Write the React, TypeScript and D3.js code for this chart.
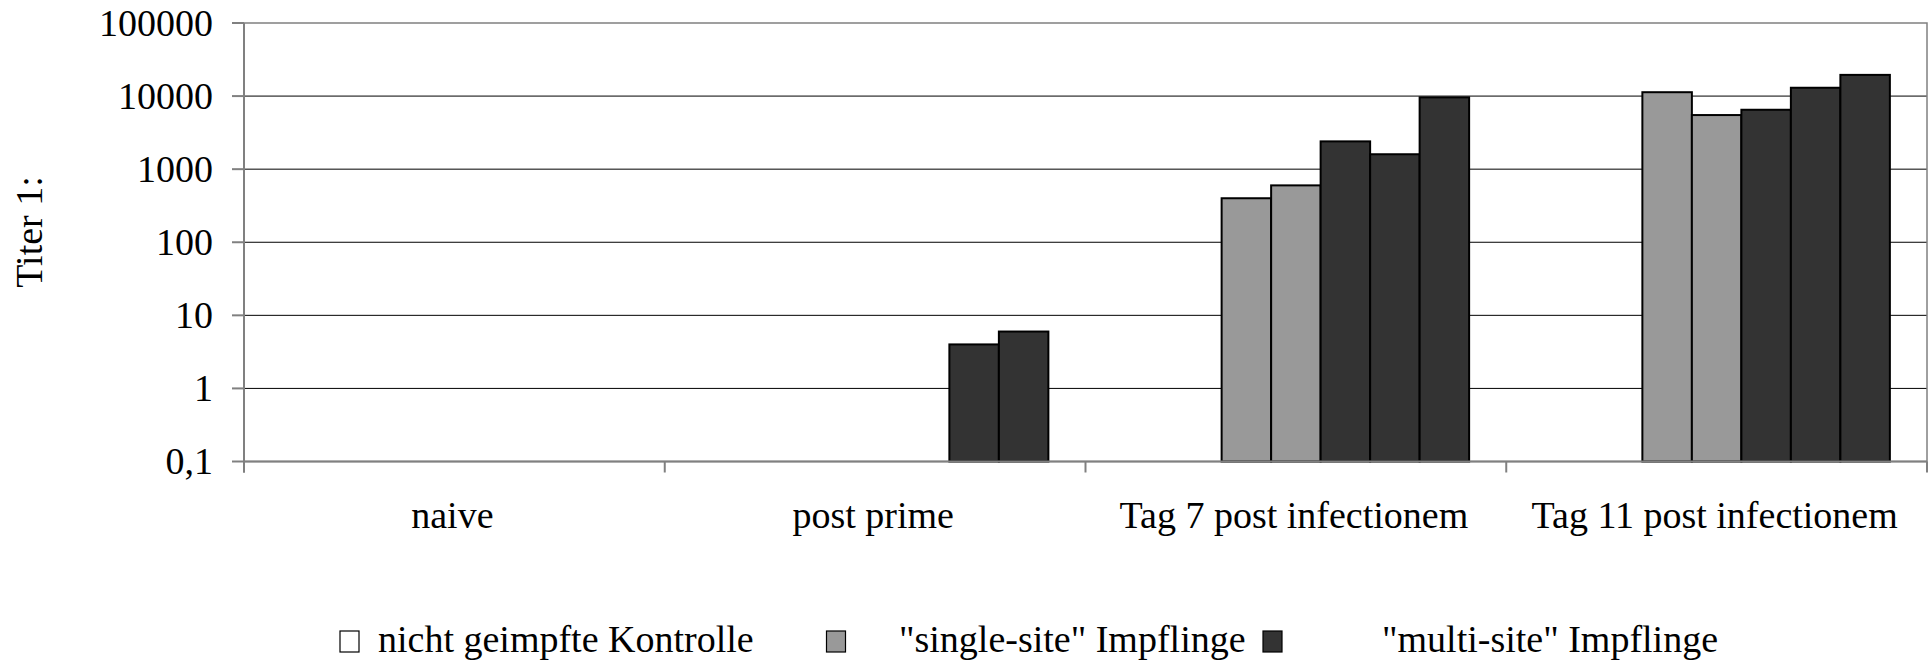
import React from "react";
import * as d3 from "d3";

const categories = ["naive", "post prime", "Tag 7 post infectionem", "Tag 11 post infectionem"];
const seriesGroups = ["control", "control", "single", "single", "multi", "multi", "multi"];
const control1: (number | null)[] = [null, null, null, null];
const control2: (number | null)[] = [null, null, null, null];
const single1: (number | null)[] = [null, null, 400, 11300];
const single2: (number | null)[] = [null, null, 600, 5500];
const multi1: (number | null)[] = [null, null, 2400, 6500];
const multi2: (number | null)[] = [null, 4, 1600, 13000];
const multi3: (number | null)[] = [null, 6, 9600, 19500];
const tickValues = [0.1, 1, 10, 100, 1000, 10000, 100000];
const tickLabels = ["0,1", "1", "10", "100", "1000", "10000", "100000"];
const legendLabels = ["nicht geimpfte Kontrolle", "\"single-site\" Impflinge", "\"multi-site\" Impflinge"];
const yAxisTitle = "Titer 1:";

const allSeries = [control1, control2, single1, single2, multi1, multi2, multi3];
const fills: Record<string, string> = { control: "#ffffff", single: "#999999", multi: "#333333" };

const W = 1928, H = 664;
const L = 244, R = 1927, T = 23, B = 461.5;
const FONT = "'Liberation Serif', 'Times New Roman', serif";
const FS = 38;

export default function App() {
  const x = d3.scaleBand<string>().domain(categories).range([L, R]).padding(0);
  const bw = x.bandwidth();
  const barW = bw / (allSeries.length + 1.5);
  const inner = d3
    .scaleBand<number>()
    .domain(d3.range(allSeries.length))
    .range([barW * 0.75, bw - barW * 0.75])
    .padding(0);
  const y = d3.scaleLog().domain([0.1, 100000]).range([B, T]);

  const bars: JSX.Element[] = [];
  allSeries.forEach((s, si) => {
    s.forEach((v, ci) => {
      if (v == null || v <= 0.1) return;
      const x0 = (x(categories[ci]) as number) + (inner(si) as number);
      bars.push(
        <rect
          key={`b${si}-${ci}`}
          x={x0}
          y={y(v)}
          width={inner.bandwidth()}
          height={B - y(v)}
          fill={fills[seriesGroups[si]]}
          stroke="#000"
          strokeWidth={2}
        />
      );
    });
  });

  const boundaries = [...categories.map((c) => x(c) as number), R];
  const legendX = [340, 826.5, 1263];
  const legendTextX = [378, 899, 1382];
  const legendFills = [fills.control, fills.single, fills.multi];

  return (
    <svg
      width={W}
      height={H}
      style={{ position: "fixed", left: 0, top: 0, background: "#fff" }}
      fontFamily={FONT}
    >
      <rect x={0} y={0} width={W} height={H} fill="#fff" />
      {tickValues.slice(1, -1).map((t) => (
        <line key={`g${t}`} x1={L} x2={R} y1={y(t)} y2={y(t)} stroke="#000" strokeWidth={1} />
      ))}
      <rect x={L} y={T} width={R - L} height={B - T} fill="none" stroke="#808080" strokeWidth={1.5} />
      {bars}
      <line x1={L} x2={L} y1={T} y2={B + 11} stroke="#808080" strokeWidth={2} />
      <line x1={L} x2={R} y1={B} y2={B} stroke="#808080" strokeWidth={2} />
      {tickValues.map((t, i) => (
        <g key={`yt${t}`}>
          <line x1={L - 12} x2={L} y1={y(t)} y2={y(t)} stroke="#808080" strokeWidth={2} />
          <text x={213} y={y(t) + 12.5} textAnchor="end" fontSize={FS} fill="#000">
            {tickLabels[i]}
          </text>
        </g>
      ))}
      {boundaries.map((b, i) => (
        <line key={`xt${i}`} x1={b} x2={b} y1={B} y2={B + 11} stroke="#808080" strokeWidth={2} />
      ))}
      {categories.map((c) => (
        <text
          key={`c${c}`}
          x={(x(c) as number) + bw / 2 - 2}
          y={528}
          textAnchor="middle"
          fontSize={FS}
          fill="#000"
        >
          {c}
        </text>
      ))}
      <text
        transform={`translate(42, 232) rotate(-90)`}
        textAnchor="middle"
        fontSize={FS}
        fill="#000"
      >
        {yAxisTitle}
      </text>
      {legendLabels.map((lab, i) => (
        <g key={`l${i}`}>
          <rect
            x={legendX[i]}
            y={631}
            width={19}
            height={21}
            fill={legendFills[i]}
            stroke="#000"
            strokeWidth={1.2}
          />
          <text x={legendTextX[i]} y={652} fontSize={FS} fill="#000">
            {lab}
          </text>
        </g>
      ))}
    </svg>
  );
}
